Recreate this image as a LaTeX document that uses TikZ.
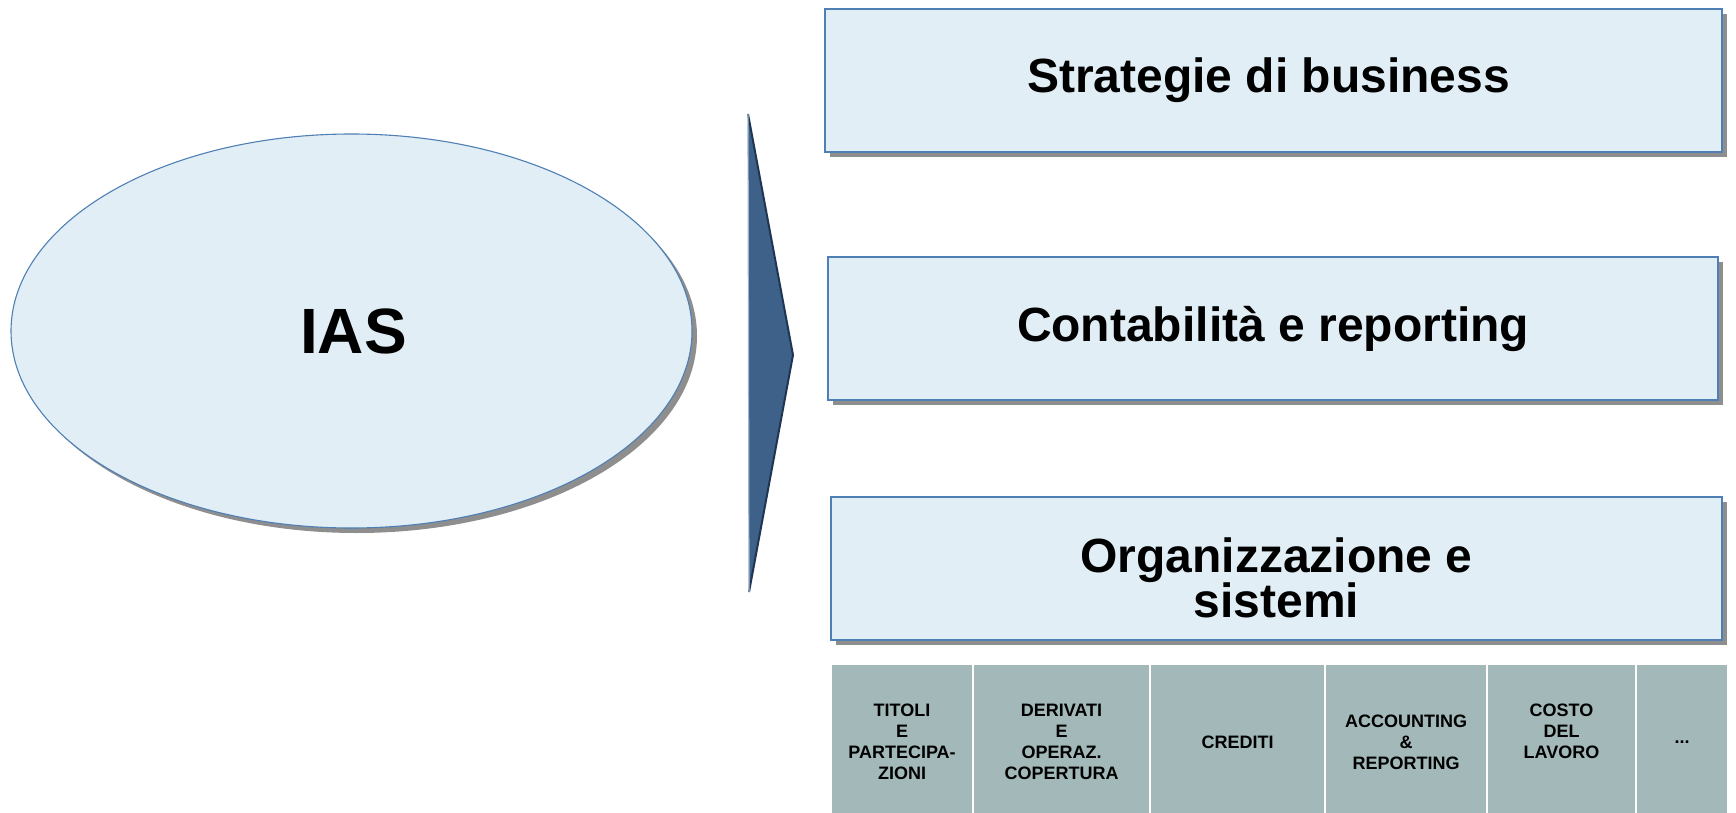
\documentclass[tikz,border=0pt]{standalone}
\usepackage{fontspec}
\setmainfont{Liberation Sans}
\usetikzlibrary{shapes.geometric,shadows}
\definecolor{boxfill}{HTML}{E1EEF5}
\definecolor{boxline}{HTML}{4E7FB5}
\definecolor{shadowgray}{HTML}{8E8E8E}
\definecolor{cellfill}{HTML}{A3B9B9}
\definecolor{arrowfill}{HTML}{3D6189}
\definecolor{arrowdark}{HTML}{1F3552}
\definecolor{arrowlight}{HTML}{9DB3CF}
\begin{document}
\begin{tikzpicture}[x=1pt,y=-1pt,
  shade box/.style={draw=boxline, line width=1.1pt, fill=boxfill,
    drop shadow={shadow xshift=5pt, shadow yshift=-5pt, fill=shadowgray, opacity=1}},
  bigbox/.style={shade box, rectangle, inner sep=0pt, align=center,
    font=\fontsize{48}{45}\selectfont\bfseries},
  cell/.style={rectangle, draw=white, line width=1.5pt, fill=cellfill,
    inner sep=0pt, minimum height=156pt, align=center,
    font=\fontsize{18}{21}\selectfont\bfseries}
]
\useasboundingbox (0,0) rectangle (1736,813);

% IAS ellipse
\node[shade box, ellipse, inner sep=0pt, minimum width=681pt, minimum height=394pt,
  font=\fontsize{64}{70}\selectfont\bfseries] (ias) at (351.5,331) {\kern4pt IAS};

% arrow
\coordinate (atop) at (748,114);
\coordinate (atip) at (793,355);
\coordinate (abot) at (749,592);
\fill[arrowfill] (atop) -- (atip) -- (abot) -- cycle;
\draw[arrowdark, line width=2pt, line join=round] (atop) -- (atip) -- (abot);
\draw[arrowlight, line width=1.2pt] (atop) -- (abot);

% right boxes
\node[bigbox, minimum width=897pt, minimum height=143pt] (b1) at (1273.5,80.5) {\raisebox{3pt}{\kern-10pt Strategie di business}};
\node[bigbox, minimum width=890pt, minimum height=143pt] (b2) at (1273,328.5) {Contabilità e reporting};
\node[bigbox, minimum width=891pt, minimum height=143pt] (b3) at (1276.5,568.5) {\raisebox{-15.5pt}[0pt][0pt]{\parbox{600pt}{\centering Organizzazione e\\ sistemi}}};

% bottom cells
\node[cell, minimum width=142pt] (c1) at (902,742) {TITOLI\\E\\PARTECIPA-\\ZIONI};
\node[cell, minimum width=177pt] (c2) at (1061.5,742) {DERIVATI\\E\\OPERAZ.\\COPERTURA};
\node[cell, minimum width=175pt] (c3) at (1237.5,742) {CREDITI};
\node[cell, minimum width=162pt] (c4) at (1406,742) {ACCOUNTING\\\&\\REPORTING};
\node[cell, minimum width=149pt] (c5) at (1561.5,742) {COSTO\\DEL\\LAVORO\\\mbox{}};
\node[cell, minimum width=92pt] (c6) at (1682,742) {...};
\end{tikzpicture}
\end{document}
